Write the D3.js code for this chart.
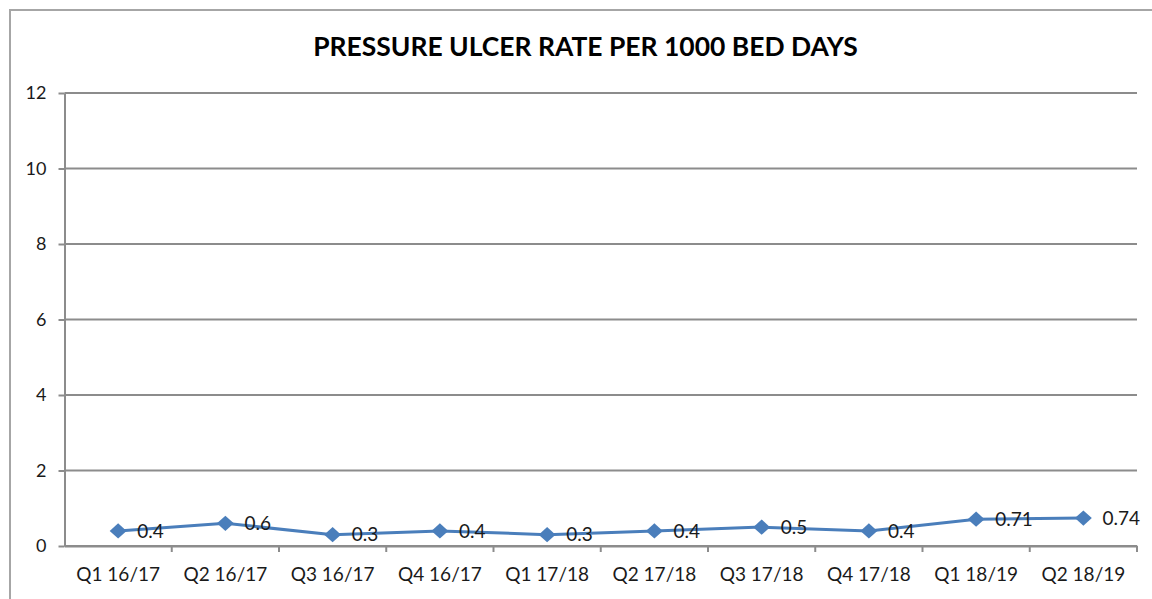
<!DOCTYPE html>
<html>
<head>
<meta charset="utf-8">
<title>Pressure ulcer rate</title>
<script src="https://d3js.org/d3.v7.min.js"></script>
<style>
  body { margin: 0; background: #fff; }
  text { font-family: Lato, "Noto Sans", sans-serif; fill: #1a1a1a; }
</style>
</head>
<body>
<div id="chart"></div>
<script>
// quarters on the x axis
var quarters = ['Q1 16/17', 'Q2 16/17', 'Q3 16/17', 'Q4 16/17', 'Q1 17/18',
                'Q2 17/18', 'Q3 17/18', 'Q4 17/18', 'Q1 18/19', 'Q2 18/19'];
// rate per 1000 bed days
var rates = [0.4, 0.6, 0.3, 0.4, 0.3, 0.4, 0.5, 0.4, 0.71, 0.74];
var yTicks = [0, 2, 4, 6, 8, 10, 12];
var title = 'PRESSURE ULCER RATE PER 1000 BED DAYS';

var W = 1152, H = 599;
var margin = {top: 93, right: 15, bottom: 53, left: 64.5};
var width = W - margin.left - margin.right,
    height = H - margin.top - margin.bottom;

var svg = d3.select('#chart').append('svg')
    .attr('width', W).attr('height', H);

// outer chart border (cropped at right and bottom)
svg.append('rect')
    .attr('x', 10).attr('y', 10)
    .attr('width', W + 20).attr('height', H + 20)
    .attr('fill', 'none').attr('stroke', '#a6a6a6').attr('stroke-width', 2);

var t = svg.append('text')
    .attr('x', 585.5).attr('y', 56)
    .attr('text-anchor', 'middle')
    .style('font-weight', 'bold')
    .style('font-size', '26px')
    .style('fill', '#000')
    .text(title);
// fit title width to the original
var tw = t.node().getComputedTextLength();
t.style('font-size', (26 * 545 / tw) + 'px');

var g = svg.append('g')
    .attr('transform', 'translate(' + margin.left + ',' + margin.top + ')');

var x = d3.scaleBand().domain(quarters).range([0, width]);
var y = d3.scaleLinear().domain([0, 12]).range([height, 0]);

// gridlines
g.append('g').selectAll('line')
    .data(yTicks)
    .enter().append('line')
      .attr('x1', 0).attr('x2', width)
      .attr('y1', function(d) { return y(d); })
      .attr('y2', function(d) { return y(d); })
      .attr('stroke', '#8c8c8c').attr('stroke-width', 2);

// y axis
var yAxis = g.append('g')
    .call(d3.axisLeft(y).tickValues(yTicks).tickSize(6).tickPadding(12).tickSizeOuter(0));
yAxis.select('.domain').attr('stroke', '#8c8c8c').attr('stroke-width', 2);
yAxis.selectAll('line').attr('stroke', '#8c8c8c').attr('stroke-width', 2);
yAxis.selectAll('text').style('font-size', '18px').style('fill', '#1a1a1a')
    .style('font-family', 'Lato, sans-serif');

// x axis with ticks between categories
var xAxis = g.append('g')
    .attr('transform', 'translate(0,' + height + ')')
    .call(d3.axisBottom(x).tickSize(0).tickPadding(22).tickSizeOuter(0));
xAxis.select('.domain').attr('stroke', '#8c8c8c').attr('stroke-width', 2);
xAxis.selectAll('text').style('font-size', '19px').style('fill', '#1a1a1a')
    .style('font-family', 'Lato, sans-serif');
g.append('g').selectAll('line')
    .data(quarters)
    .enter().append('line')
      .attr('x1', function(d) { return x(d) + x.bandwidth(); })
      .attr('x2', function(d) { return x(d) + x.bandwidth(); })
      .attr('y1', height).attr('y2', height + 6)
      .attr('stroke', '#8c8c8c').attr('stroke-width', 2);

var cx = function(d, i) { return x(quarters[i]) + x.bandwidth() / 2; };

// the line
var line = d3.line()
    .x(function(d, i) { return cx(d, i); })
    .y(function(d) { return y(d); });
g.append('path')
    .datum(rates)
    .attr('d', line)
    .attr('fill', 'none')
    .attr('stroke', '#4a7ebb')
    .attr('stroke-width', 3);

// diamond markers
g.selectAll('.marker')
    .data(rates)
    .enter().append('path')
      .attr('class', 'marker')
      .attr('d', d3.symbol().type(d3.symbolDiamond2).size(150))
      .attr('transform', function(d, i) {
        return 'translate(' + cx(d, i) + ',' + y(d) + ') scale(1.1,1)';
      })
      .attr('fill', '#4a7ebb');

// data labels to the right
g.selectAll('.lbl')
    .data(rates)
    .enter().append('text')
      .attr('class', 'lbl')
      .attr('x', function(d, i) { return cx(d, i) + 19; })
      .attr('y', function(d) { return y(d); })
      .attr('dy', '0.35em')
      .style('font-size', '19px')
      .text(function(d) { return d; });
</script>
</body>
</html>
